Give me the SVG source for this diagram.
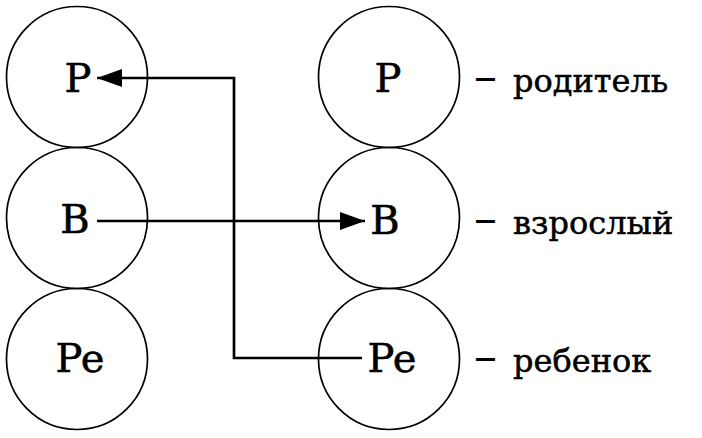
<svg xmlns="http://www.w3.org/2000/svg" width="702" height="438" viewBox="0 0 702 438">
<style>
.c{fill:none;stroke:#000;stroke-width:1.7}
.t{font-family:"DejaVu Serif","Liberation Serif",serif;font-size:40px;fill:#000;text-anchor:middle;stroke:#000;stroke-width:0.6}
.l{font-family:"DejaVu Serif","Liberation Serif",serif;font-size:32px;fill:#000;stroke:#000;stroke-width:0.5}
.d{font-size:46px;stroke:none}
.a{fill:none;stroke:#000;stroke-width:2.7}
</style>
<defs>
<marker id="ah" markerUnits="userSpaceOnUse" markerWidth="26" markerHeight="18" refX="25" refY="9" orient="auto">
<path d="M0,0 L25,9 L0,18 Z" fill="#000"/>
</marker>
</defs>
<rect width="702" height="438" fill="#fff"/>
<g id="left-P"><circle class="c" cx="77" cy="77" r="70.5"/><text class="t" x="78" y="92">P</text></g>
<g id="left-B"><circle class="c" cx="77" cy="218" r="70.5"/><text class="t" x="75" y="233">B</text></g>
<g id="left-Pe"><circle class="c" cx="77" cy="359" r="70.5"/><text class="t" x="80" y="372">Pe</text></g>
<g id="right-P"><circle class="c" cx="389" cy="77" r="70.5"/><text class="t" x="388" y="92">P</text><text class="l" x="474" y="92"><tspan class="d">–</tspan> <tspan x="513">родитель</tspan></text></g>
<g id="right-B"><circle class="c" cx="389" cy="218" r="70.5"/><text class="t" x="385" y="234">B</text><text class="l" x="474" y="234"><tspan class="d">–</tspan> <tspan x="513">взрослый</tspan></text></g>
<g id="right-Pe"><circle class="c" cx="389" cy="359" r="70.5"/><text class="t" x="392" y="372">Pe</text><text class="l" x="474" y="372"><tspan class="d">–</tspan> <tspan x="513">ребенок</tspan></text></g>
<g id="connectors">
<path class="a" d="M97,221 H365" marker-end="url(#ah)"/>
<path class="a" d="M362,358 H234 V78 H97" marker-end="url(#ah)"/>
</g>
</svg>
